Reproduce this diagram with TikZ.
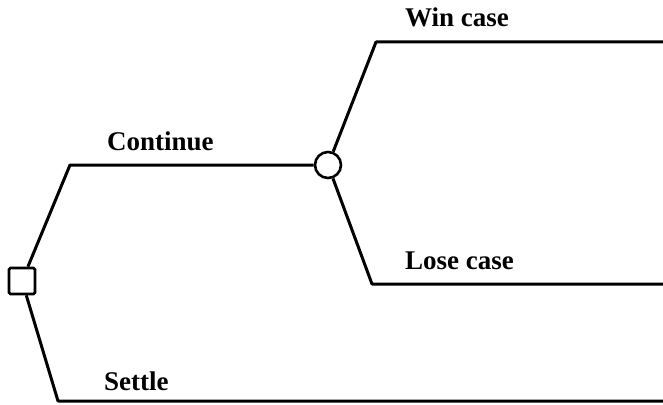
\documentclass[tikz,border=0pt]{standalone}
\usepackage{fontspec}
\setmainfont{Liberation Serif}
\begin{document}
\begin{tikzpicture}[x=1pt,y=-1pt,
  branch/.style={line width=3pt, line join=round},
  decision/.style={draw, line width=2.6pt, rectangle, minimum size=26pt, inner sep=0pt, rounded corners=1.5pt},
  chance/.style={draw, line width=2.6pt, circle, minimum size=26pt, inner sep=0pt},
  lbl/.style={anchor=base west, inner sep=0pt, font=\fontsize{27}{30}\selectfont\bfseries}]
\useasboundingbox (0,0) rectangle (663,404);
% nodes
\node[decision] (dec) at (22,281) {};
\node[chance] (ch) at (328,165) {};
% corners and free ends
\coordinate (cc) at (70,165);
\coordinate (sc) at (58,401);
\coordinate (se) at (663,401);
\coordinate (wc) at (376,42);
\coordinate (we) at (663,42);
\coordinate (lc) at (372,284);
\coordinate (le) at (663,284);
% connectors
\draw[branch] (dec) -- (cc) -- (ch);
\draw[branch] (dec) -- (sc) -- (se);
\draw[branch] (ch) -- (wc) -- (we);
\draw[branch] (ch) -- (lc) -- (le);
% labels
\node[lbl] (tcont) at (107,150) {Continue};
\node[lbl] (tsett) at (104,390) {Settle};
\node[lbl] (twin) at (405,27) {Win case};
\node[lbl] (tlose) at (405,269) {Lose case};
\end{tikzpicture}
\end{document}
